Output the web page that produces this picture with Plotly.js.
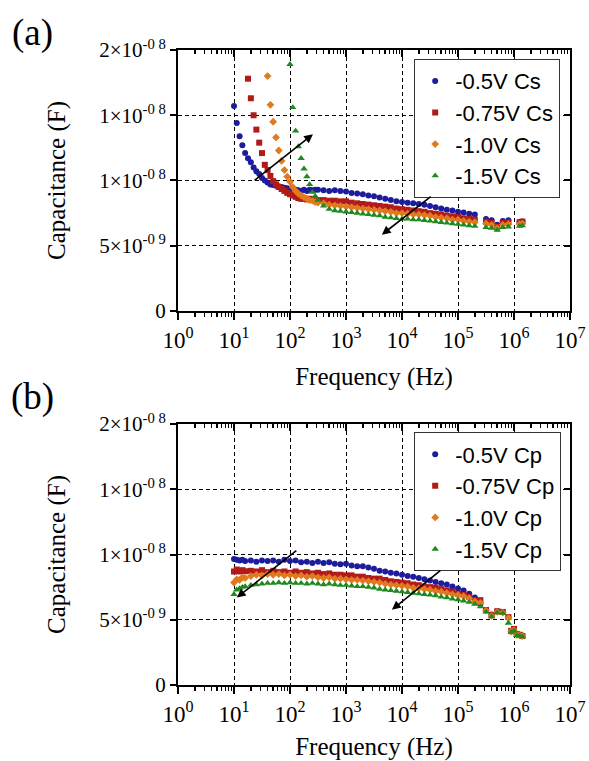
<!DOCTYPE html>
<html>
<head>
<meta charset="utf-8">
<script src="https://cdn.plot.ly/plotly-3.0.1.min.js"></script>
<style>html,body{margin:0;padding:0;background:#fff;}#chart{width:589px;height:761px;}</style>
</head>
<body>
<div id="chart"></div>
<script>
// ---------- DATA (capacitance in nF; 1 nF = 1x10^-9 F) ----------
const freqA = [10, 11.2, 12.6, 14.1, 15.8, 17.8, 20, 22.4, 25.1, 28.2, 31.6, 35.5, 39.8, 44.7, 50.1, 56.2, 63.1, 70.8, 79.4, 89.1,
  100, 112, 126, 141, 158, 178, 200, 224, 251, 282, 316,
  398, 501, 631, 794, 1000, 1259, 1585, 1995, 2512, 3162, 3981, 5012, 6310, 7943,
  10000, 12589, 15849, 19953, 25119, 31623, 39811, 50119, 63096, 79433,
  100000, 125893, 158489, 199526,
  316228, 398107, 501187, 630957, 794328, 1258925, 1412538];

const csA05 = [15.7, 14.4, 13.4, 12.7, 12.1, 11.7, 11.4, 11.0, 10.7, 10.5, 10.2, 10.0, 9.85, 9.7, 9.65, 9.6, 9.55, 9.5, 9.45, 9.4,
  9.35, 9.3, 9.3, 9.25, 9.2, 9.3, 9.2, 9.3, 9.25, 9.3, 9.3,
  9.25, 9.2, 9.25, 9.2, 9.15, 9.05, 9.0, 8.95, 8.85, 8.8, 8.7, 8.6, 8.5, 8.4,
  8.35, 8.3, 8.25, 8.2, 8.15, 8.05, 7.95, 7.85, 7.75, 7.7,
  7.6, 7.55, 7.45, 7.4,
  7.05, 6.95, 6.6, 6.9, 6.95, 6.8, 6.85];
const csA075 = [null, null, null, null, null, 17.8, 16.3, 15.0, 13.9, 12.9, 12.1, 11.2, 10.8, 10.35, 9.95, 9.7, 9.5, 9.35, 9.2, 9.05,
  8.95, 8.85, 8.75, 8.65, 8.6, 8.6, 8.55, 8.6, 8.55, 8.5, 8.5,
  8.5, 8.45, 8.45, 8.4, 8.4, 8.3, 8.25, 8.2, 8.15, 8.1, 8.05, 8.0, 7.95, 7.85,
  7.8, 7.75, 7.7, 7.65, 7.6, 7.5, 7.45, 7.4, 7.3, 7.25,
  7.2, 7.1, 7.05, 7.0,
  6.85, 6.75, 6.45, 6.75, 6.8, 6.8, 6.85];
const csA10 = [null, null, null, null, null, null, null, null, null, null, null, null, 18.0, 15.8, 14.5, 13.3, 12.3, 11.5, 10.8, 10.3,
  9.9, 9.5, 9.2, 9.0, 8.85, 8.7, 8.6, 8.5, 8.45, 8.35, 8.3,
  8.25, 8.15, 8.1, 8.05, 8.0, 7.95, 7.9, 7.85, 7.8, 7.75, 7.7, 7.65, 7.6, 7.5,
  7.5, 7.45, 7.4, 7.4, 7.35, 7.3, 7.2, 7.15, 7.1, 7.0,
  7.0, 6.9, 6.85, 6.8,
  6.7, 6.6, 6.35, 6.6, 6.65, 6.65, 6.7];
const csA15 = [null, null, null, null, null, null, null, null, null, null, null, null, null, null, null, null, null, null, null, null,
  18.9, 15.6, 13.8, 12.6, 11.7, 10.9, 10.3, 9.7, 9.1, 8.8, 8.5,
  8.05, 7.8, 7.7, 7.65, 7.6, 7.55, 7.5, 7.45, 7.4, 7.35, 7.3, 7.2, 7.15, 7.1,
  7.05, 7.05, 7.0, 7.0, 6.95, 6.9, 6.85, 6.8, 6.75, 6.7,
  6.65, 6.6, 6.55, 6.5,
  6.4, 6.35, 6.2, 6.4, 6.45, 6.5, 6.55];

const freqB = [10, 11.2, 12.6, 14.1, 15.8,
  20, 25.1, 31.6, 39.8, 50.1, 63.1, 79.4,
  100, 126, 158, 200, 251, 316, 398, 501, 631, 794,
  1000, 1259, 1585, 1995, 2512, 3162, 3981, 5012, 6310, 7943,
  10000, 12589, 15849, 19953, 25119, 31623, 39811, 50119, 63096, 79433,
  100000, 125893, 158489, 199526, 251189,
  316228, 398107, 501187, 630957, 794328, 891251, 1000000, 1122018, 1258925, 1412538];

const cpB05 = [9.65, 9.6, 9.55, 9.6, 9.5,
  9.55, 9.45, 9.55, 9.5, 9.55, 9.45, 9.6,
  9.5, 9.55, 9.4, 9.45, 9.35, 9.45, 9.35, 9.4, 9.3, 9.25,
  9.3, 9.15, 9.1, 9.1, 9.0, 8.9, 8.75, 8.7, 8.6, 8.55,
  8.45, 8.35, 8.3, 8.2, 8.1, 8.0, 7.9, 7.8, 7.7, 7.55,
  7.4, 7.25, 7.0, 6.7, 6.2,
  5.75, 5.4, 5.65, 5.6, 5.2, 4.1, 4.25, 3.9, 3.85, 3.8];
const cpB075 = [8.7, 8.85, 8.7, 8.8, 8.72,
  8.75, 8.7, 8.8, 8.65, 8.75, 8.65, 8.7,
  8.6, 8.7, 8.6, 8.65, 8.55, 8.6, 8.5, 8.55, 8.45, 8.45,
  8.4, 8.4, 8.3, 8.3, 8.2, 8.15, 8.15, 8.05, 7.95, 7.9,
  7.85, 7.8, 7.7, 7.65, 7.55, 7.5, 7.45, 7.35, 7.25, 7.15,
  7.0, 6.9, 6.75, 6.5, 6.5,
  5.75, 5.35, 5.65, 5.6, 5.2, 4.15, 4.3, 3.9, 3.85, 3.75];
const cpB10 = [7.85, 8.1, 8.05, 8.25, 8.2,
  8.35, 8.45, 8.4, 8.5, 8.45, 8.5, 8.4,
  8.45, 8.35, 8.4, 8.3, 8.35, 8.25, 8.2, 8.25, 8.15, 8.15,
  8.1, 8.05, 8.05, 8.0, 7.95, 7.9, 7.85, 7.75, 7.7, 7.65,
  7.6, 7.55, 7.45, 7.4, 7.35, 7.3, 7.2, 7.15, 7.05, 6.95,
  6.9, 6.8, 6.65, 6.4, 6.3,
  5.7, 5.3, 5.6, 5.55, 5.15, 4.1, 4.2, 3.85, 3.8, 3.75];
const cpB15 = [6.95, 7.3, 7.4, 7.5, 7.55,
  7.65, 7.7, 7.75, 7.8, 7.8, 7.85, 7.8,
  7.85, 7.8, 7.8, 7.75, 7.8, 7.75, 7.7, 7.75, 7.7, 7.65,
  7.65, 7.6, 7.55, 7.55, 7.5, 7.45, 7.35, 7.3, 7.25, 7.2,
  7.15, 7.1, 7.05, 7.0, 6.95, 6.9, 6.85, 6.75, 6.7, 6.6,
  6.55, 6.45, 6.35, 6.2, 6.0,
  5.6, 5.25, 5.55, 5.5, 4.75, 4.05, 4.15, 3.8, 3.75, 3.7];

const namesA = ['-0.5V Cs', '-0.75V Cs', '-1.0V Cs', '-1.5V Cs'];
const namesB = ['-0.5V Cp', '-0.75V Cp', '-1.0V Cp', '-1.5V Cp'];

const xTickVals = [1, 10, 100, 1000, 10000, 100000, 1000000, 10000000];
const xTickText = ['10<sup>0</sup>', '10<sup>1</sup>', '10<sup>2</sup>', '10<sup>3</sup>', '10<sup>4</sup>', '10<sup>5</sup>', '10<sup>6</sup>', '10<sup>7</sup>'];
const yTickVals = [0, 5, 10, 15, 20];
const yTickText = ['0', '5×10<sup>-0 9</sup>', '1×10<sup>-0 8</sup>', '1×10<sup>-0 8</sup>', '2×10<sup>-0 8</sup>'];

// ---------- STYLE ----------
const colors = ['#1c1c9c', '#b21a1a', '#e07a1e', '#1f8a1f'];
const symbols = ['circle', 'square', 'diamond', 'triangle-up'];
const serif = "'Liberation Serif'";
const sans = "'Liberation Sans'";

const minorVals = [];
for (let d = 0; d < 7; d++) for (let k = 2; k <= 9; k++) minorVals.push(k * Math.pow(10, d));

const seriesA = [csA05, csA075, csA10, csA15];
const seriesB = [cpB05, cpB075, cpB10, cpB15];
const traces = [];
seriesA.forEach((ys, i) => traces.push({
  type: 'scatter', mode: 'markers', x: freqA, y: ys, name: namesA[i],
  xaxis: 'x', yaxis: 'y', legend: 'legend', cliponaxis: true,
  marker: {color: colors[i], symbol: symbols[i], size: i === 3 ? 6.5 : 6}
}));
seriesB.forEach((ys, i) => traces.push({
  type: 'scatter', mode: 'markers', x: freqB, y: ys, name: namesB[i],
  xaxis: 'x2', yaxis: 'y2', legend: 'legend2', cliponaxis: true,
  marker: {color: colors[i], symbol: symbols[i], size: i === 3 ? 6.5 : 6}
}));
// empty helpers so the mirrored (inside-tick) frame axes are drawn
traces.push({type: 'scatter', x: [], y: [], xaxis: 'x3', yaxis: 'y3', showlegend: false, hoverinfo: 'skip'});
traces.push({type: 'scatter', x: [], y: [], xaxis: 'x4', yaxis: 'y4', showlegend: false, hoverinfo: 'skip'});

const domA = [0.589, 1];
const domB = [0, 0.411];

function xMain(anchor) {
  return {
    type: 'log', range: [0, 7], anchor: anchor,
    tickmode: 'array', tickvals: xTickVals, ticktext: xTickText,
    ticks: 'outside', ticklen: 7, tickwidth: 2, tickcolor: '#000',
    minor: {tickmode: 'array', tickvals: minorVals, ticks: 'outside', ticklen: 4, tickwidth: 1.5, tickcolor: '#000', showgrid: false},
    showline: true, linewidth: 2, linecolor: '#000', mirror: true,
    showgrid: true, gridcolor: '#000', gridwidth: 1, griddash: '4px,3px',
    zeroline: false,
    tickfont: {family: serif, size: 23, color: '#000'},
    title: {text: 'Frequency (Hz)', font: {family: serif, size: 25, color: '#000'}, standoff: 16}
  };
}
function xMirror(overlay, anchor) {
  return {
    type: 'log', range: [0, 7], overlaying: overlay, anchor: anchor, side: 'top',
    tickmode: 'array', tickvals: xTickVals, ticks: 'inside', ticklen: 7, tickwidth: 2, tickcolor: '#000',
    minor: {tickmode: 'array', tickvals: minorVals, ticks: 'inside', ticklen: 4, tickwidth: 1.5, tickcolor: '#000', showgrid: false},
    showticklabels: false, showline: false, showgrid: false, zeroline: false
  };
}
function yMain(anchor, dom) {
  return {
    range: [0, 20], domain: dom, anchor: anchor,
    tickmode: 'array', tickvals: yTickVals, ticktext: yTickText,
    ticks: 'outside', ticklen: 6, tickwidth: 2, tickcolor: '#000',
    showline: true, linewidth: 2, linecolor: '#000', mirror: true,
    showgrid: true, gridcolor: '#000', gridwidth: 1, griddash: '4px,3px',
    zeroline: false,
    tickfont: {family: serif, size: 21, color: '#000'},
    title: {text: 'Capacitance (F)', font: {family: serif, size: 25, color: '#000'}, standoff: 26}
  };
}
function yMirror(overlay, anchor) {
  return {
    range: [0, 20], overlaying: overlay, anchor: anchor, side: 'right',
    tickmode: 'array', tickvals: yTickVals, ticks: 'inside', ticklen: 6, tickwidth: 2, tickcolor: '#000',
    showticklabels: false, showline: false, showgrid: false, zeroline: false
  };
}

const arrow = (xr, yr, x, y, ax, ay) => ({
  xref: xr, yref: yr, axref: xr, ayref: yr, x: x, y: y, ax: ax, ay: ay,
  text: '', showarrow: true, arrowhead: 2, arrowsize: 1.1, arrowwidth: 1.6, arrowcolor: '#000'
});

const legendStyle = (y) => ({
  x: 0.602, y: y, xanchor: 'left', yanchor: 'top', xref: 'paper', yref: 'paper',
  bgcolor: '#fff', bordercolor: '#333', borderwidth: 1.2,
  font: {family: sans, size: 22, color: '#000'},
  itemsizing: 'trace', tracegroupgap: 0
});

const layout = {
  width: 589, height: 761,
  margin: {l: 178, r: 19, t: 50, b: 76},
  paper_bgcolor: '#fff', plot_bgcolor: '#fff',
  font: {family: serif, color: '#000'},
  showlegend: true,
  xaxis: xMain('y'),
  yaxis: yMain('x', domA),
  xaxis2: xMain('y2'),
  yaxis2: yMain('x2', domB),
  xaxis3: xMirror('x', 'y3'),
  yaxis3: yMirror('y', 'x3'),
  xaxis4: xMirror('x2', 'y4'),
  yaxis4: yMirror('y2', 'x4'),
  legend: legendStyle(0.986),
  legend2: legendStyle(0.398),
  annotations: [
    arrow('x', 'y', 2.41, 13.54, 1.34, 9.92),
    arrow('x', 'y', 3.64, 5.85, 4.54, 8.85),
    arrow('x2', 'y2', 1.05, 6.7, 2.14, 10.38),
    arrow('x2', 'y2', 3.82, 5.77, 4.71, 8.85),
    {xref: 'paper', yref: 'paper', x: -0.372, y: 1.0268, xanchor: 'center', yanchor: 'middle', showarrow: false,
     text: '(a)', font: {family: serif, size: 37, color: '#000'}},
    {xref: 'paper', yref: 'paper', x: -0.372, y: 0.4535, xanchor: 'center', yanchor: 'middle', showarrow: false,
     text: '(b)', font: {family: serif, size: 37, color: '#000'}}
  ]
};

Plotly.newPlot('chart', traces, layout, {staticPlot: true, displayModeBar: false});
</script>
</body>
</html>
